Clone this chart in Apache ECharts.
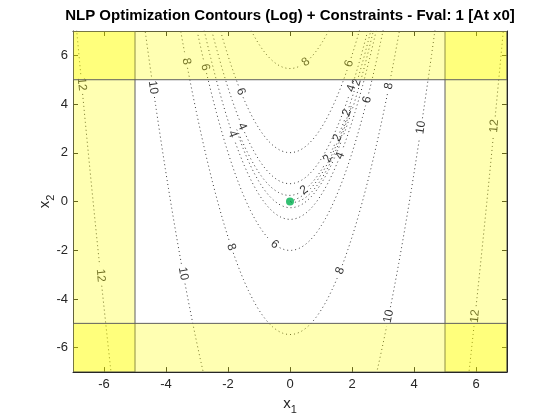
<!DOCTYPE html>
<html><head><meta charset="utf-8">
<script src="https://cdn.jsdelivr.net/npm/echarts@6/dist/echarts.min.js"></script>
<style>html,body{margin:0;padding:0;background:#fff}#c{width:560px;height:420px}</style>
</head><body><div id="c"></div>
<script>
// ---- data ----
const titleText = 'NLP Optimization Contours (Log) + Constraints - Fval: 1 [At x0]';
const axisRange = [-7, 7];
const tickValues = [-6, -4, -2, 0, 2, 4, 6];
const contourLevels = [0, 2, 4, 6, 8, 10, 12];          // levels of ln f
const boundLower = -5;
const boundUpper = 5;
const x0 = [0, 0];
const fval = 1;
// contour label anchors (level, approximate x1, x2)
const labelLevel = [12, 12, 12, 12, 10, 10, 10, 10, 8, 8, 8, 8, 8, 6, 6, 6, 6, 6, 4, 4, 4, 4, 2, 2, 2, 2, 2];
const labelX1 = [-6.77, -6.13, 6.61, 6.0, -4.42, -3.48, 4.26, 3.16, -3.39, -1.87, 0.48, 3.23, 1.61, -2.77, -1.61, -0.48, 1.87, 2.48, -1.55, -1.87, 1.68, 1.94, 0.39, 1.29, 1.52, 1.84, 2.10];
const labelX2 = [4.79, -3.05, 3.07, -4.72, 4.70, -2.97, 3.02, -4.72, 5.73, -1.86, 5.77, 4.71, -2.84, 5.49, 4.50, -1.74, 5.68, 4.18, 3.07, 2.75, 1.85, 4.67, 0.58, 1.73, 2.62, 3.64, 4.91];

// objective (Rosenbrock): f = 100 (x2 - x1^2)^2 + (1 - x1)^2 ; level set parametrised exactly
function contourPolylines(level) {
  const c = Math.exp(level), s = Math.sqrt(c);
  const lim = 7.4;
  const tA = Math.acos(Math.min(1, (1 + lim) / s));
  const tB = Math.acos(Math.max(-1, (1 - lim) / s));
  const N = 3000, up = [], lo = [];
  for (let i = 0; i <= N; i++) {
    const t = tA + (tB - tA) * i / N;
    const a = 1 - s * Math.cos(t);
    const h = s / 10 * Math.sin(t);
    up.push([a, a * a + h]);
    lo.push([a, a * a - h]);
  }
  const cl = tA === 0, cr = tB === Math.PI;
  if (cl && cr) return [up.concat(lo.slice().reverse())];
  if (cl) return [lo.slice().reverse().concat(up.slice(1))];
  if (cr) return [up.concat(lo.slice(0, N).reverse())];
  return [up, lo];
}

const FONT = '"Liberation Sans", Arial, Helvetica, sans-serif';
const AX = '#262626';
const chart = echarts.init(document.getElementById('c'), null, { renderer: 'canvas' });

const nameRich = {
  a: { fontSize: 15, fontFamily: FONT, color: AX, lineHeight: 16, verticalAlign: 'top' },
  b: { fontSize: 11, fontFamily: FONT, color: AX, lineHeight: 11, verticalAlign: 'top', padding: [8, 0, 0, 0] }
};
function mkX(pos, main) {
  return {
    type: 'value', min: axisRange[0], max: axisRange[1], position: pos,
    axisLine: { onZero: false, lineStyle: { color: AX, width: 1 } },
    axisTick: { inside: true, length: 5, customValues: tickValues, lineStyle: { color: AX } },
    axisLabel: main ? { customValues: tickValues, color: AX, fontSize: 13, fontFamily: FONT, margin: 6 } : { show: false },
    splitLine: { show: false },
    name: main ? '{a|x}{b|1}' : '', nameLocation: 'middle', nameGap: 22,
    nameTextStyle: { rich: nameRich }
  };
}
function mkY(pos, main) {
  return {
    type: 'value', min: axisRange[0], max: axisRange[1], position: pos,
    axisLine: { onZero: false, lineStyle: { color: AX, width: 1 } },
    axisTick: { inside: true, length: 5, customValues: tickValues, lineStyle: { color: AX } },
    axisLabel: main ? { customValues: tickValues, color: AX, fontSize: 13, fontFamily: FONT, margin: 5 } : { show: false },
    splitLine: { show: false },
    name: main ? '{a|x}{b|2}' : '', nameLocation: 'middle', nameGap: 20, nameMoveOverlap: false,
    nameTextStyle: { rich: nameRich }
  };
}

const baseOption = {
  animation: false,
  backgroundColor: '#fff',
  title: {
    text: titleText, left: 290, top: 8, textAlign: 'center', padding: 0,
    textStyle: { fontSize: 15, fontWeight: 'bold', color: '#000', fontFamily: FONT }
  },
  grid: { left: 73, right: 53, top: 31, bottom: 46 },
  xAxis: [mkX('bottom', true), mkX('top', false)],
  yAxis: [mkY('left', true), mkY('right', false)],
  series: []
};
chart.setOption(baseOption);

const p0 = chart.convertToPixel({ gridIndex: 0 }, [axisRange[0], axisRange[0]]);
const p1 = chart.convertToPixel({ gridIndex: 0 }, [axisRange[1], axisRange[1]]);
const toPx = (d) => [p0[0] + (d[0] - axisRange[0]) / (axisRange[1] - axisRange[0]) * (p1[0] - p0[0]),
                     p0[1] + (d[1] - axisRange[0]) / (axisRange[1] - axisRange[0]) * (p1[1] - p0[1])];
const inGrid = (q) => q[0] >= p0[0] && q[0] <= p1[0] && q[1] <= p0[1] && q[1] >= p1[1];

const series = [];
const labelData = [];
contourLevels.forEach(level => {
  const polys = contourPolylines(level).map(pl => ({ d: pl, px: pl.map(toPx) }));
  const labs = [];
  labelLevel.forEach((L, i) => {
    if (L !== level) return;
    const T = toPx([labelX1[i], labelX2[i]]);
    let best = null;
    polys.forEach(pl => {
      pl.px.forEach((q, k) => {
        if (!inGrid(q)) return;
        const dd = (q[0] - T[0]) ** 2 + (q[1] - T[1]) ** 2;
        if (!best || dd < best.dd) best = { dd, pl, k };
      });
    });
    if (!best) return;
    const n = best.pl.px.length;
    let ka = best.k - 1, kb = best.k + 1;
    const Q = best.pl.px[best.k];
    while (ka > 0 && Math.hypot(best.pl.px[ka][0] - Q[0], best.pl.px[ka][1] - Q[1]) < 4) ka--;
    while (kb < n - 1 && Math.hypot(best.pl.px[kb][0] - Q[0], best.pl.px[kb][1] - Q[1]) < 4) kb++;
    ka = Math.max(ka, 0); kb = Math.min(kb, n - 1);
    const A = best.pl.px[ka], B = best.pl.px[kb];
    let deg = Math.atan2(-(B[1] - A[1]), B[0] - A[0]) * 180 / Math.PI;
    if (deg > 90) deg -= 180;
    if (deg <= -90) deg += 180;
    const txt = String(level);
    labs.push({ q: Q, r: txt.length * 3.4 + 2.5 });
    labelData.push({ value: best.pl.d[best.k], label: { rotate: deg, formatter: txt } });
  });
  polys.forEach(pl => {
    let seg = [];
    pl.px.forEach((q, k) => {
      const hit = labs.some(l => Math.hypot(q[0] - l.q[0], q[1] - l.q[1]) < l.r);
      if (hit) { if (seg.length > 1) series.push(seg); seg = []; }
      else seg.push(pl.d[k]);
    });
    if (seg.length > 1) series.push(seg);
  });
});

const lineSeries = series.map(seg => ({
  type: 'line', data: seg, symbol: 'none', showSymbol: false, silent: true, clip: true, z: 2,
  lineStyle: { color: '#3a3a3a', width: 1, type: [1, 3] }
}));

const regions = [
  [axisRange[0], boundLower, axisRange[0], axisRange[1]],
  [boundUpper, axisRange[1], axisRange[0], axisRange[1]],
  [axisRange[0], axisRange[1], axisRange[0], boundLower],
  [axisRange[0], axisRange[1], boundUpper, axisRange[1]]
];

chart.setOption({
  series: lineSeries.concat([
    {
      type: 'scatter', data: labelData, symbolSize: 1, itemStyle: { color: 'rgba(0,0,0,0)' }, silent: true, z: 3, clip: false,
      label: { show: true, position: 'inside', color: '#000', fontSize: 12, fontFamily: FONT },
      labelLayout: { hideOverlap: false }
    },
    {
      type: 'custom', data: regions, silent: true, z: 4, clip: true,
      encode: { x: [0, 1], y: [2, 3] },
      renderItem: (params, api) => {
        const a = api.coord([api.value(0), api.value(3)]);
        const b = api.coord([api.value(1), api.value(2)]);
        return {
          type: 'rect',
          shape: { x: a[0], y: a[1], width: b[0] - a[0], height: b[1] - a[1] },
          style: { fill: 'rgba(255,255,0,0.3)', stroke: '#5e5e5e', lineWidth: 1 }
        };
      }
    },
    {
      type: 'scatter', data: [x0], symbolSize: 8, z: 6, silent: true,
      itemStyle: { color: '#00b050' }
    }
  ])
});
</script>
</body></html>
